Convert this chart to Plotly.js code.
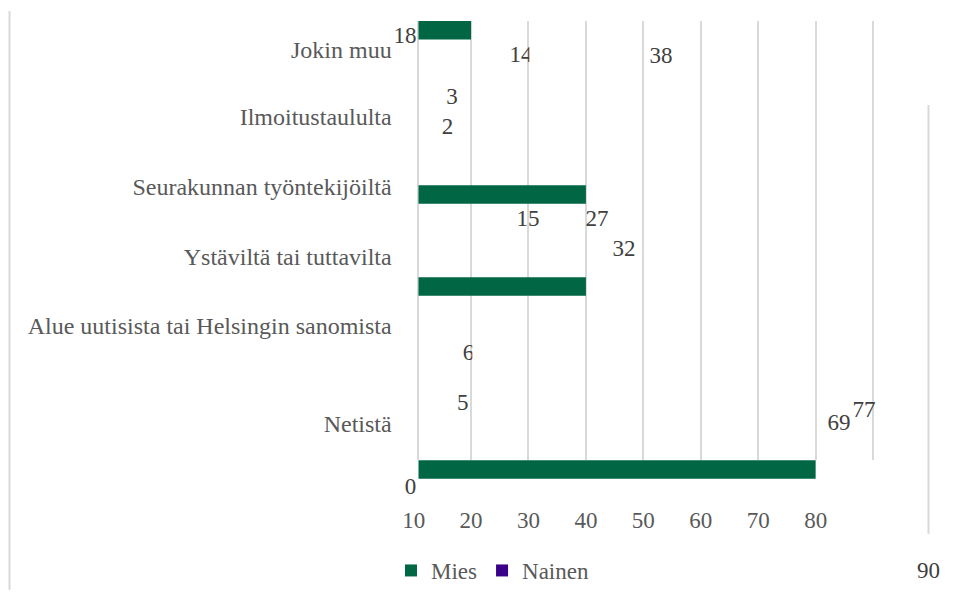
<!DOCTYPE html>
<html><head><meta charset="utf-8">
<script src="https://cdn.plot.ly/plotly-3.0.1.min.js"></script>
<style>html,body{margin:0;padding:0;background:#fff}#chart{width:959px;height:605px}</style>
</head><body><div id="chart"></div>
<script>
// ---- data ----
const categories = ["Jokin muu", "Ilmoitustaululta", "Seurakunnan työntekijöiltä", "Ystäviltä tai tuttavilta", "Alue uutisista tai Helsingin sanomista", "Netistä"];
const seriesNames = ["Mies", "Nainen"];
const mies = [20, null, 40, 40, null, 80];          // visible green bars, read on the drawn axis
const nainen = [null, null, null, null, null, null]; // no purple bars are drawn
const dataLabels = ["18", "14", "38", "3", "2", "15", "27", "32", "6", "5", "69", "77", "0", "90"];
const tickLabels = [10, 20, 30, 40, 50, 60, 70, 80];

// ---- layout helpers (positions/styles) ----
const W = 959, H = 605;
const PX0 = 356.2, PXU = 5.743;           // axis: px = PX0 + PXU*value
const u = p => (p - PX0) / PXU;
const fx = p => p / W, fy = p => 1 - p / H;
const serif = "Liberation Serif, Times New Roman, serif";
const grey = "#595959", dark = "#404040", gridC = "#d9d9d9";
const green = "#006643", purple = "#3b0089";

const barRows = [30.25, 0, 194.4, 286.5, 0, 469.4];    // bar centres (px from top)
const catRows = [50, 117, 187, 257, 326, 424];         // category label centres
const labelXY = [[405,37.5],[521,56],[661,57],[452,98],[447.5,128],[528,220],[597,220],[624,250],
                 [468.5,354],[462.7,404],[839,424],[864,411],[410.5,488],[928.6,572]];

const traces = [
  {type: "bar", orientation: "h", name: seriesNames[0], x: mies, y: barRows, width: 18.5,
   marker: {color: green}, xaxis: "x2", yaxis: "y2", hoverinfo: "skip"},
  {type: "bar", orientation: "h", name: seriesNames[1], x: nainen, y: barRows, width: 18.5,
   marker: {color: purple}, xaxis: "x2", yaxis: "y2", hoverinfo: "skip"},
  {type: "scatter", mode: "text", x: labelXY.map(p => p[0]), y: labelXY.map(p => p[1]),
   text: dataLabels, textposition: "middle center", cliponaxis: false,
   textfont: {family: serif, size: 23, color: dark}, xaxis: "x4", yaxis: "y2",
   showlegend: false, hoverinfo: "skip"},
  {type: "scatter", x: [], y: [], xaxis: "x3", yaxis: "y2", showlegend: false, hoverinfo: "skip"},
  {type: "scatter", x: [], y: [], xaxis: "x", yaxis: "y", showlegend: false, hoverinfo: "skip"}
];

const layout = {
  width: W, height: H, margin: {l: 0, r: 0, t: 0, b: 0},
  paper_bgcolor: "#ffffff", plot_bgcolor: "rgba(0,0,0,0)",
  barmode: "overlay", showlegend: true,
  font: {family: serif, size: 23, color: grey},
  xaxis: {domain: [fx(418.5), fx(900)], range: [u(418.5), u(900)], anchor: "y",
          tickmode: "linear", tick0: 0, dtick: 10, showgrid: true, gridcolor: gridC, gridwidth: 2,
          showticklabels: false, zeroline: false, showline: false, ticks: ""},
  yaxis: {domain: [fy(460), fy(21)], range: [460, 21], anchor: "x",
          tickmode: "array", tickvals: catRows, ticktext: categories,
          tickfont: {family: serif, size: 24, color: grey}, ticks: "", ticklabelstandoff: 20,
          showgrid: false, zeroline: false, showline: true, linecolor: gridC, linewidth: 2},
  xaxis2: {domain: [fx(418.5), fx(900)], range: [u(418.5), u(900)], anchor: "y2",
           visible: false, showgrid: false, zeroline: false},
  yaxis2: {domain: [0, 1], range: [H, 0], anchor: "x2", visible: false, showgrid: false, zeroline: false},
  xaxis3: {domain: [fx(380), fx(860)], range: [u(380), u(860)], anchor: "free", position: fy(504),
           tickmode: "array", tickvals: tickLabels, ticktext: tickLabels.map(String),
           tickfont: {family: serif, size: 23, color: grey}, ticks: "",
           showgrid: false, zeroline: false, showline: false},
  xaxis4: {domain: [0, 1], range: [0, W], anchor: "y2", visible: false, showgrid: false, zeroline: false},
  legend: {orientation: "h", x: fx(391), y: fy(549), xanchor: "left", yanchor: "top",
           font: {family: serif, size: 23, color: grey}, bgcolor: "rgba(0,0,0,0)", traceorder: "normal"},
  shapes: [
    {type: "line", xref: "paper", yref: "paper", x0: fx(9.5), x1: fx(9.5), y0: fy(11), y1: fy(590),
     line: {color: gridC, width: 2}},
    {type: "line", xref: "paper", yref: "paper", x0: fx(928.5), x1: fx(928.5), y0: fy(105), y1: fy(534),
     line: {color: gridC, width: 2}},
    {type: "rect", xref: "paper", yref: "paper", layer: "above", x0: fx(529.3), x1: fx(537), y0: fy(68), y1: fy(44),
     fillcolor: "#ffffff", line: {width: 0}},
    {type: "rect", xref: "paper", yref: "paper", layer: "above", x0: fx(472.3), x1: fx(479), y0: fy(366), y1: fy(343),
     fillcolor: "#ffffff", line: {width: 0}}
  ]
};

Plotly.newPlot("chart", traces, layout, {staticPlot: true, displayModeBar: false});
</script></body></html>
